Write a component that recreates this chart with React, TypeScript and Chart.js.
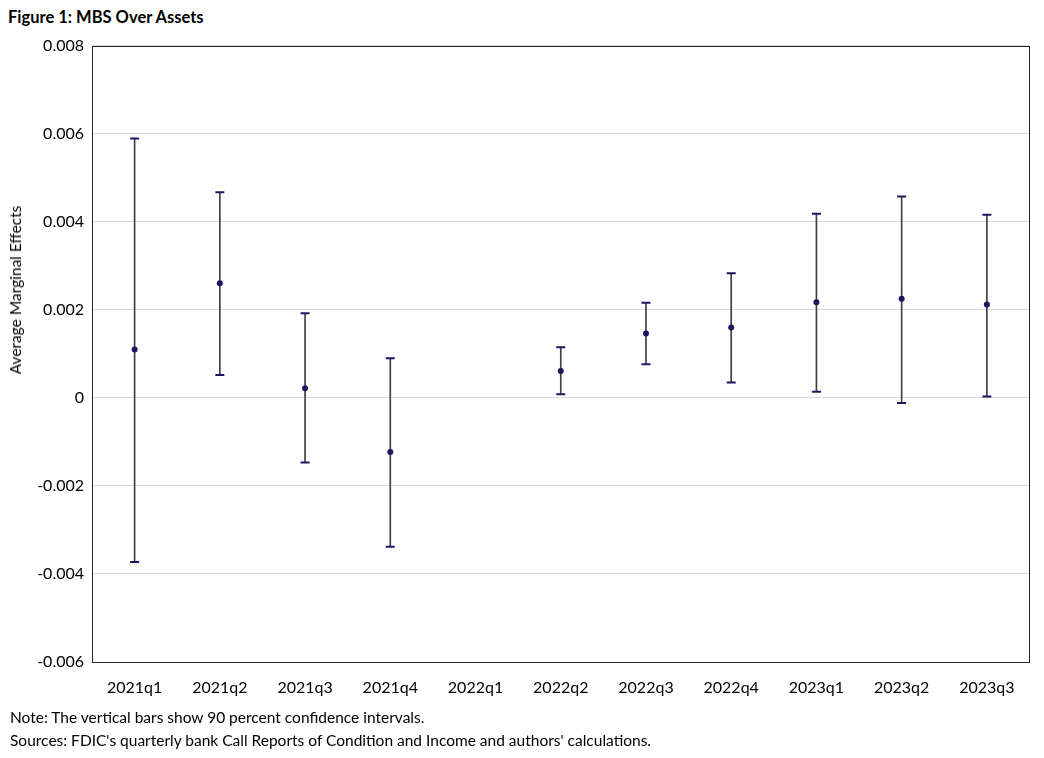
import React, { useEffect, useRef } from "react";
import { Chart, registerables } from "chart.js";

Chart.register(...registerables);

const categories = ["2021q1", "2021q2", "2021q3", "2021q4", "2022q1", "2022q2", "2022q3", "2022q4", "2023q1", "2023q2", "2023q3"];
const estimates: (number | null)[] = [0.0011, 0.0026, 0.00022, -0.00123, null, 0.00061, 0.00146, 0.0016, 0.00217, 0.00225, 0.00212];
const upperBounds: (number | null)[] = [0.00589, 0.00467, 0.00192, 0.0009, null, 0.00115, 0.00216, 0.00283, 0.00418, 0.00457, 0.00416];
const lowerBounds: (number | null)[] = [-0.00373, 0.00052, -0.00147, -0.00338, null, 0.00008, 0.00076, 0.00035, 0.00014, -0.00012, 0.00003];
const yTickValues = [-0.006, -0.004, -0.002, 0, 0.002, 0.004, 0.006, 0.008];
const yTickLabels = ["-0.006", "-0.004", "-0.002", "0", "0.002", "0.004", "0.006", "0.008"];

const NAVY = "#1c165e";
const FONT = "Lato, 'Open Sans', sans-serif";

const borderPlugin = {
  id: "plotBorder",
  afterDraw(chart: any) {
    const { ctx, chartArea } = chart;
    ctx.save();
    ctx.strokeStyle = "#262626";
    ctx.lineWidth = 1;
    ctx.strokeRect(Math.round(chartArea.left) + 0.5, Math.round(chartArea.top) + 0.5, Math.round(chartArea.right - chartArea.left) - 1, Math.round(chartArea.bottom - chartArea.top));
    ctx.restore();
  },
};

export default function App() {
  const ref = useRef<HTMLCanvasElement | null>(null);
  useEffect(() => {
    if (!ref.current) return;
    const ranges = lowerBounds.map((lo, i) => (lo === null || upperBounds[i] === null ? null : [lo, upperBounds[i] as number]));
    const chart = new Chart(ref.current, {
      type: "bar",
      data: {
        labels: categories,
        datasets: [
          {
            type: "line",
            label: "Estimate",
            data: estimates,
            showLine: false,
            pointRadius: 3,
            pointBackgroundColor: NAVY,
            pointBorderColor: NAVY,
            pointBorderWidth: 0,
            order: 1,
          } as any,
          {
            type: "line",
            label: "Upper",
            data: upperBounds,
            showLine: false,
            pointStyle: "line",
            pointRadius: 4.5,
            pointBorderWidth: 2,
            pointBorderColor: NAVY,
            order: 2,
          } as any,
          {
            type: "line",
            label: "Lower",
            data: lowerBounds,
            showLine: false,
            pointStyle: "line",
            pointRadius: 4.5,
            pointBorderWidth: 2,
            pointBorderColor: NAVY,
            order: 2,
          } as any,
          {
            type: "bar",
            label: "CI",
            data: ranges as any,
            backgroundColor: "#3f3f3f",
            barThickness: 1,
            borderSkipped: false,
            order: 3,
          },
        ],
      },
      options: {
        animation: false,
        responsive: false,
        maintainAspectRatio: false,
        layout: { padding: { left: 0, right: 4, top: 12, bottom: 0 } },
        plugins: { legend: { display: false }, tooltip: { enabled: false } },
        scales: {
          x: {
            grid: { display: false, drawTicks: false },
            border: { display: false },
            ticks: { color: "#000", font: { family: FONT, size: 16 }, padding: 16, maxRotation: 0 },
            afterFit: (s: any) => { s.height = 50; },
          },
          y: {
            min: -0.006,
            max: 0.008,
            grid: { color: "#d9d9d9", drawTicks: false, lineWidth: 1 },
            border: { display: false },
            afterBuildTicks: (s: any) => { s.ticks = yTickValues.map((v) => ({ value: v })); },
            ticks: {
              color: "#000",
              font: { family: FONT, size: 16 },
              padding: 8,
              callback: (v: any) => {
                const i = yTickValues.findIndex((t) => Math.abs(t - Number(v)) < 1e-9);
                return i >= 0 ? yTickLabels[i] : "";
              },
            },
            afterFit: (s: any) => { s.width = 84; },
          },
        },
      },
      plugins: [borderPlugin],
    });
    return () => chart.destroy();
  }, []);

  return (
    <div style={{ position: "relative", width: 1028, height: 742, fontFamily: FONT }}>
      <div style={{ position: "absolute", left: 0, top: 0, fontWeight: 700, fontSize: 16.5, color: "#000", lineHeight: "18px", whiteSpace: "nowrap" }}>
        Figure 1: MBS Over Assets
      </div>
      <canvas ref={ref} width={1028} height={684} style={{ position: "absolute", left: 0, top: 20, width: 1028, height: 684 }} />
      <div style={{ position: "absolute", left: 7, top: 282, transform: "translate(-50%, -50%) rotate(-90deg)", fontSize: 15.5, color: "#000", whiteSpace: "nowrap" }}>
        Average Marginal Effects
      </div>
      <div style={{ position: "absolute", left: 2, top: 698, fontSize: 15.5, color: "#000", lineHeight: "23px", whiteSpace: "nowrap" }}>
        <div>Note: The vertical bars show 90 percent confidence intervals.</div>
        <div>Sources: FDIC's quarterly bank Call Reports of Condition and Income and authors' calculations.</div>
      </div>
    </div>
  );
}
